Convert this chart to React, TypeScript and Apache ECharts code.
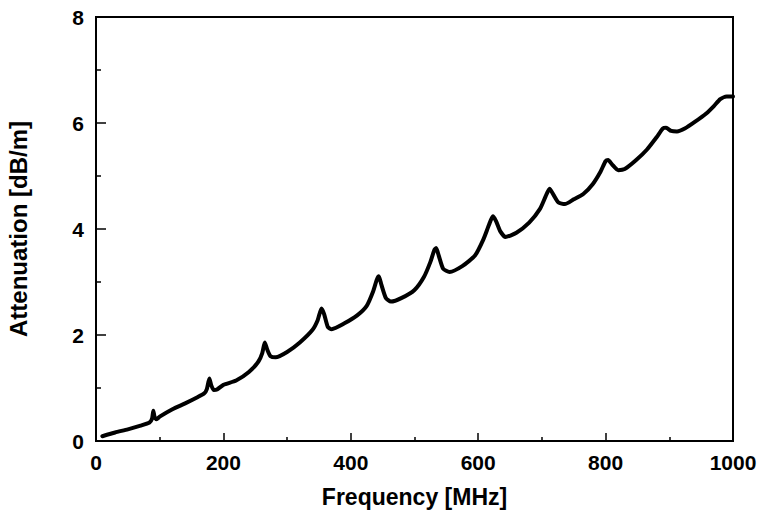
import React, { useEffect, useRef } from "react";
import * as echarts from "echarts";

const frequencyMHz = [
  10, 30, 50, 70, 84, 88, 90, 92, 95, 100, 120, 140, 160, 170, 174, 178, 181, 185, 190, 200,
  220, 240, 255, 261, 265, 269, 274, 282, 300, 320, 340, 348, 354, 358, 364, 370, 390, 410, 425, 435,
  441, 444, 448, 455, 463, 480, 500, 515, 525, 531, 534, 538, 545, 555, 575, 595, 608, 617, 623, 628,
  635, 643, 660, 680, 697, 706, 712, 718, 726, 736, 750, 765, 780, 792, 800, 804, 810, 820, 830, 848,
  865, 880, 890, 895, 903, 912, 925, 940, 958, 970, 980, 990, 1000,
];
const attenuationDbPerM = [
  0.09, 0.16, 0.22, 0.29, 0.35, 0.42, 0.57, 0.45, 0.41, 0.46, 0.6, 0.71, 0.83, 0.9, 0.98, 1.18, 1.05, 0.96, 0.97, 1.06,
  1.14, 1.3, 1.5, 1.66, 1.86, 1.72, 1.6, 1.58, 1.68, 1.86, 2.1, 2.28, 2.5, 2.4, 2.15, 2.11, 2.22, 2.37, 2.55, 2.82,
  3.05, 3.11, 2.95, 2.7, 2.63, 2.7, 2.85, 3.1, 3.38, 3.6, 3.64, 3.5, 3.25, 3.19, 3.3, 3.5, 3.8, 4.08, 4.24, 4.15,
  3.95, 3.85, 3.93, 4.12, 4.38, 4.62, 4.76, 4.65, 4.5, 4.47, 4.56, 4.66, 4.85, 5.08, 5.28, 5.3, 5.22, 5.11, 5.13, 5.3,
  5.5, 5.73, 5.9, 5.91, 5.85, 5.84, 5.9, 6.02, 6.18, 6.32, 6.45, 6.5, 6.5,
];

const xTitle = "Frequency [MHz]";
const yTitle = "Attenuation [dB/m]";
const FONT = 'Arial, "Liberation Sans", sans-serif';

export default function App() {
  const ref = useRef<HTMLDivElement>(null);
  useEffect(() => {
    if (!ref.current) return;
    const chart = echarts.init(ref.current, undefined, { renderer: "svg" });
    const data = frequencyMHz.map((f, i) => [f, attenuationDbPerM[i]]);
    chart.setOption({
      animation: false,
      backgroundColor: "#fff",
      grid: {
        left: 96,
        top: 17,
        right: 30,
        bottom: 72,
        containLabel: false,
        outerBoundsMode: "none",
        show: true,
        borderColor: "#000",
        borderWidth: 2,
        backgroundColor: "transparent",
      },
      xAxis: {
        type: "value",
        min: 0,
        max: 1000,
        interval: 200,
        name: xTitle,
        nameLocation: "middle",
        nameGap: 44,
        nameTextStyle: { fontFamily: FONT, fontWeight: "bold", fontSize: 23, color: "#000" },
        axisLine: { show: true, lineStyle: { color: "#000", width: 2 } },
        axisTick: { show: true, inside: true, length: 8, lineStyle: { color: "#000", width: 1.5 } },
        minorTick: { show: true, splitNumber: 2, length: 4, lineStyle: { color: "#000", width: 1.5 } },
        splitLine: { show: false },
        axisLabel: {
          fontFamily: FONT,
          fontWeight: "bold",
          fontSize: 21,
          color: "#000",
          margin: 11,
          formatter: (v: number) => String(v),
        },
      },
      yAxis: {
        type: "value",
        min: 0,
        max: 8,
        interval: 2,
        name: yTitle,
        nameLocation: "middle",
        nameGap: 66,
        nameTextStyle: { fontFamily: FONT, fontWeight: "bold", fontSize: 24, color: "#000" },
        axisLine: { show: true, lineStyle: { color: "#000", width: 2 } },
        axisTick: { show: true, inside: true, length: 10, lineStyle: { color: "#000", width: 1.5 } },
        minorTick: { show: true, splitNumber: 2, length: 5, lineStyle: { color: "#000", width: 1.5 } },
        splitLine: { show: false },
        axisLabel: {
          fontFamily: FONT,
          fontWeight: "bold",
          fontSize: 21,
          color: "#000",
          margin: 12,
          formatter: (v: number) => String(v),
        },
      },
      series: [
        {
          type: "line",
          data,
          showSymbol: false,
          smooth: 0.2,
          lineStyle: { color: "#000", width: 4, join: "round", cap: "round" },
        },
      ],
    });
    return () => chart.dispose();
  }, []);
  return (
    <div
      ref={ref}
      style={{ position: "absolute", left: 0, top: 0, width: 763, height: 513 }}
    />
  );
}
